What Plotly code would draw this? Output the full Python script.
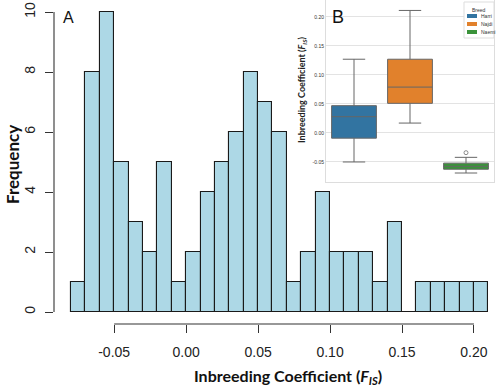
import plotly.graph_objects as go

# ---------------- data ----------------
bin_edges = [-0.08, -0.07, -0.06, -0.05, -0.04, -0.03, -0.02, -0.01,
             0.00, 0.01, 0.02, 0.03, 0.04, 0.05, 0.06, 0.07,
             0.08, 0.09, 0.10, 0.11, 0.12, 0.13, 0.14, 0.15,
             0.16, 0.17, 0.18, 0.19, 0.20, 0.21]
counts = [1, 8, 10, 5, 3, 2, 5, 1,
          2, 4, 5, 6, 8, 7, 6, 1,
          2, 4, 2, 2, 2, 1, 3, 0,
          1, 1, 1, 1, 1]
x_tickvals = [-0.05, 0.00, 0.05, 0.10, 0.15, 0.20]
x_ticktext = ["-0.05", "0.00", "0.05", "0.10", "0.15", "0.20"]
y_tickvals = [0, 2, 4, 6, 8, 10]
y_ticktext = ["0", "2", "4", "6", "8", "10"]

breeds = ["Harri", "Najdi", "Naemi"]
box_q1 = [-0.009, 0.051, -0.0625]
box_median = [0.028, 0.079, -0.0575]
box_q3 = [0.047, 0.127, -0.052]
box_lower = [-0.050, 0.017, -0.069]
box_upper = [0.127, 0.211, -0.042]
outlier_breed = ["Naemi"]
outlier_value = [-0.034]
inset_tickvals = [-0.05, 0.00, 0.05, 0.10, 0.15, 0.20]
inset_ticktext = ["-0.05", "0.00", "0.05", "0.10", "0.15", "0.20"]
breed_colors = ["#3274A1", "#E1812C", "#3A923A"]

# ---------------- figure ----------------
W, H = 498, 388
ML, MR, MT, MB = 54, 0, 0, 64
PW, PH = W - ML - MR, H - MT - MB


def px_x(p):
    return (p - ML) / PW


def px_y(p):
    return (H - MB - p) / PH


centers = [(a + b) / 2 for a, b in zip(bin_edges[:-1], bin_edges[1:])]
widths = [b - a for a, b in zip(bin_edges[:-1], bin_edges[1:])]

fig = go.Figure()
fig.add_trace(go.Bar(
    x=centers, y=counts, width=widths,
    marker=dict(color="#ADD8E6", line=dict(color="#1a1a1a", width=1.1)),
    showlegend=False, xaxis="x", yaxis="y",
))

for b, q1, md, q3, lo, hi, c in zip(breeds, box_q1, box_median, box_q3,
                                      box_lower, box_upper, breed_colors):
    fig.add_trace(go.Box(
        x=[b], q1=[q1], median=[md], q3=[q3], lowerfence=[lo], upperfence=[hi],
        name=b, fillcolor=c, line=dict(color="#666666", width=1),
        width=0.8, whiskerwidth=0.5, boxpoints=False,
        xaxis="x2", yaxis="y2", showlegend=False,
    ))

fig.add_trace(go.Scatter(
    x=outlier_breed, y=outlier_value, mode="markers",
    marker=dict(symbol="circle-open", size=4, color="#6e6e6e", line=dict(width=0.8)),
    showlegend=False, xaxis="x2", yaxis="y2",
))

shapes = [
    # R-style axis lines (only between first and last tick)
    dict(type="line", xref="x", yref="paper",
         x0=min(x_tickvals), x1=max(x_tickvals), y0=0, y1=0,
         line=dict(color="#333333", width=1.1)),
    dict(type="line", xref="paper", yref="y",
         x0=0, x1=0, y0=min(y_tickvals), y1=max(y_tickvals),
         line=dict(color="#333333", width=1.1)),
    # legend frame for inset
    dict(type="rect", xref="paper", yref="paper",
         x0=px_x(464), x1=px_x(494), y0=px_y(38), y1=px_y(2),
         fillcolor="white", line=dict(color="#dddddd", width=1)),
]

annotations = [
    dict(text="A", x=px_x(68), y=px_y(17), xref="paper", yref="paper",
         xanchor="center", yanchor="middle",
         showarrow=False, font=dict(family="Liberation Sans", size=16, color="#111")),
    dict(text="<b>Frequency</b>", x=px_x(12), y=px_y(165), xref="paper", yref="paper",
         xanchor="center", yanchor="middle",
         textangle=-90, showarrow=False,
         font=dict(family="Lato", size=17, color="#111")),
    dict(text="<b>Inbreeding Coefficient (<i>F</i><sub><i>IS</i></sub>)</b>",
         x=px_x(288), y=px_y(376), xref="paper", yref="paper", showarrow=False,
         xanchor="center", yanchor="middle",
         font=dict(family="Lato", size=16, color="#111")),
    dict(text="B", x=px_x(338), y=px_y(17), xref="paper", yref="paper",
         xanchor="center", yanchor="middle",
         showarrow=False, font=dict(family="Liberation Sans", size=18, color="#111")),
    dict(text="<b>Inbreeding Coefficient (<i>F</i><sub><i>IS</i></sub>)</b>",
         x=px_x(302), y=px_y(90), xref="paper", yref="paper", textangle=-90,
         xanchor="center", yanchor="middle",
         showarrow=False, font=dict(family="Lato", size=9, color="#222")),
    dict(text="Breed", x=px_x(479), y=px_y(9.5), xref="paper", yref="paper",
         xanchor="center", yanchor="middle", showarrow=False,
         font=dict(family="Liberation Sans", size=5, color="#333")),
]

legend_rows = [16, 24, 32]
for b, c, r in zip(breeds, breed_colors, legend_rows):
    shapes.append(dict(type="rect", xref="paper", yref="paper",
                       x0=px_x(467), x1=px_x(477), y0=px_y(r + 2), y1=px_y(r - 2),
                       fillcolor=c, line=dict(width=0)))
    annotations.append(dict(text=b, x=px_x(479), y=px_y(r), xref="paper", yref="paper",
                            xanchor="left", yanchor="middle", showarrow=False,
                            font=dict(family="Liberation Sans", size=5, color="#333")))

fig.update_layout(
    width=W, height=H,
    margin=dict(l=ML, r=MR, t=MT, b=MB, autoexpand=False),
    paper_bgcolor="white", plot_bgcolor="white",
    bargap=0, boxmode="overlay", showlegend=False,
    font=dict(family="Liberation Sans", color="#222"),
    xaxis=dict(range=[-0.0918, 0.2167], domain=[0, 1], tickvals=x_tickvals,
               ticktext=x_ticktext, ticks="outside", ticklen=8, tickwidth=1.1,
               tickcolor="#333", showgrid=False, zeroline=False, showline=False,
               automargin=False, ticklabelstandoff=7,
               tickfont=dict(size=14, color="#222")),
    yaxis=dict(range=[-0.4, 10.4], domain=[0, 1], tickvals=y_tickvals,
               ticktext=y_ticktext, ticks="outside", ticklen=8, tickwidth=1.1,
               tickcolor="#333", showgrid=False, zeroline=False, showline=False,
               automargin=False, tickangle=-90, ticklabelstandoff=4,
               tickfont=dict(size=14, color="#222")),
    xaxis2=dict(domain=[px_x(326), px_x(494)], anchor="y2", range=[-0.5, 2.5],
                categoryorder="array", categoryarray=breeds, automargin=False,
                showticklabels=False, ticks="", showgrid=False, zeroline=False,
                showline=True, mirror=True, linecolor="#dddddd", linewidth=1),
    yaxis2=dict(domain=[px_y(182), 1], anchor="x2", range=[-0.0845, 0.229],
                tickvals=inset_tickvals, ticktext=inset_ticktext, automargin=False,
                showgrid=True, gridcolor="#e3e3e3", gridwidth=1, zeroline=False,
                showline=True, mirror=True, linecolor="#dddddd", linewidth=1,
                ticks="", tickfont=dict(size=5, color="#333")),
    shapes=shapes,
    annotations=annotations,
)

fig.write_html("out.html", config={"displayModeBar": False},
               post_script="document.body.style.margin='0';document.body.style.overflow='hidden';")
